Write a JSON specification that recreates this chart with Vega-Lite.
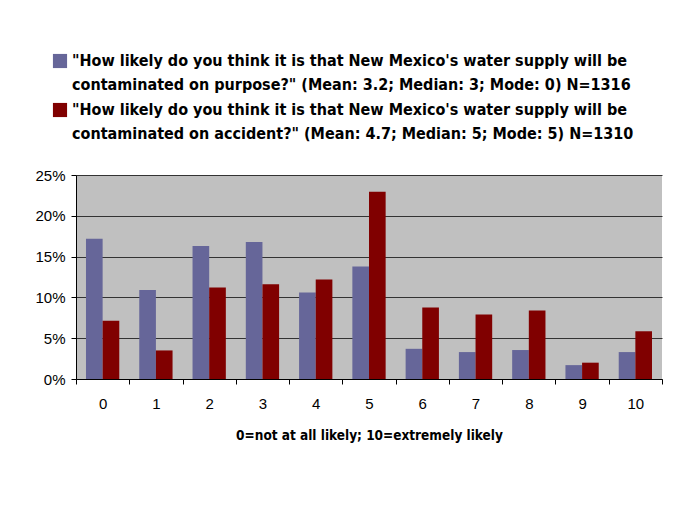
{
  "$schema": "https://vega.github.io/schema/vega-lite/v6.json",
  "width": 586,
  "height": 204,
  "autosize": "none",
  "padding": {"left": 76, "top": 175, "right": 12, "bottom": 129},
  "background": "white",
  "config": {
    "view": {"fill": "#C0C0C0", "stroke": null},
    "font": "Liberation Sans"
  },
  "data": {
    "values": [
      {"rating": "0", "series": "purpose", "pct": 0.172},
      {"rating": "0", "series": "accident", "pct": 0.0715},
      {"rating": "1", "series": "purpose", "pct": 0.109},
      {"rating": "1", "series": "accident", "pct": 0.035},
      {"rating": "2", "series": "purpose", "pct": 0.163},
      {"rating": "2", "series": "accident", "pct": 0.112},
      {"rating": "3", "series": "purpose", "pct": 0.168},
      {"rating": "3", "series": "accident", "pct": 0.116},
      {"rating": "4", "series": "purpose", "pct": 0.106},
      {"rating": "4", "series": "accident", "pct": 0.122},
      {"rating": "5", "series": "purpose", "pct": 0.138},
      {"rating": "5", "series": "accident", "pct": 0.2295},
      {"rating": "6", "series": "purpose", "pct": 0.037},
      {"rating": "6", "series": "accident", "pct": 0.0875},
      {"rating": "7", "series": "purpose", "pct": 0.033},
      {"rating": "7", "series": "accident", "pct": 0.079},
      {"rating": "8", "series": "purpose", "pct": 0.0355},
      {"rating": "8", "series": "accident", "pct": 0.084},
      {"rating": "9", "series": "purpose", "pct": 0.017},
      {"rating": "9", "series": "accident", "pct": 0.02},
      {"rating": "10", "series": "purpose", "pct": 0.033},
      {"rating": "10", "series": "accident", "pct": 0.0585}
    ]
  },
  "mark": {"type": "bar"},
  "encoding": {
    "x": {
      "field": "rating",
      "type": "ordinal",
      "sort": ["0","1","2","3","4","5","6","7","8","9","10"],
      "scale": {"paddingInner": 0, "paddingOuter": 0},
      "axis": {
        "title": "0=not at all likely; 10=extremely likely",
        "titleFont": "DejaVu Sans Condensed",
        "titleFontWeight": "bold",
        "titleFontSize": 13.5,
        "titleColor": "black",
        "titlePadding": 17,
        "labelAngle": 0,
        "labelFontSize": 15,
        "labelColor": "black",
        "labelPadding": 12,
        "tickBand": "extent",
        "tickSize": 5,
        "tickColor": "black",
        "domainColor": "black",
        "grid": false
      }
    },
    "xOffset": {
      "field": "series",
      "type": "nominal",
      "sort": ["purpose", "accident"],
      "scale": {"paddingInner": 0, "paddingOuter": 0.6}
    },
    "y": {
      "field": "pct",
      "type": "quantitative",
      "scale": {"domain": [0, 0.25], "nice": false},
      "axis": {
        "title": null,
        "format": ".0%",
        "values": [0, 0.05, 0.1, 0.15, 0.2, 0.25],
        "labelFontSize": 15,
        "labelColor": "black",
        "labelPadding": 6,
        "tickSize": 5,
        "tickColor": "black",
        "domainColor": "black",
        "grid": true,
        "gridColor": "#333333",
        "gridOpacity": 1
      }
    },
    "color": {
      "field": "series",
      "type": "nominal",
      "scale": {"domain": ["purpose", "accident"], "range": ["#666699", "#800000"]},
      "legend": {
        "orient": "none",
        "legendX": -24,
        "legendY": -122,
        "title": null,
        "symbolType": "square",
        "symbolSize": 200,
        "symbolStrokeWidth": 0,
        "labelFont": "DejaVu Sans Condensed",
        "labelFontWeight": "bold",
        "labelFontSize": 16,
        "labelColor": "black",
        "labelLimit": 700,
        "labelOffset": 4,
        "rowPadding": 9,
        "encode": {"labels": {"update": {"lineHeight": {"value": 24}}}},
        "labelExpr": "datum.value == 'purpose' ? ['\"How likely do you think it is that New Mexico\\'s water supply will be', 'contaminated on purpose?\" (Mean: 3.2; Median: 3; Mode: 0)    N=1316'] : ['\"How likely do you think it is that New Mexico\\'s water supply will be', 'contaminated on accident?\" (Mean: 4.7; Median: 5; Mode: 5)    N=1310']"
      }
    }
  }
}
